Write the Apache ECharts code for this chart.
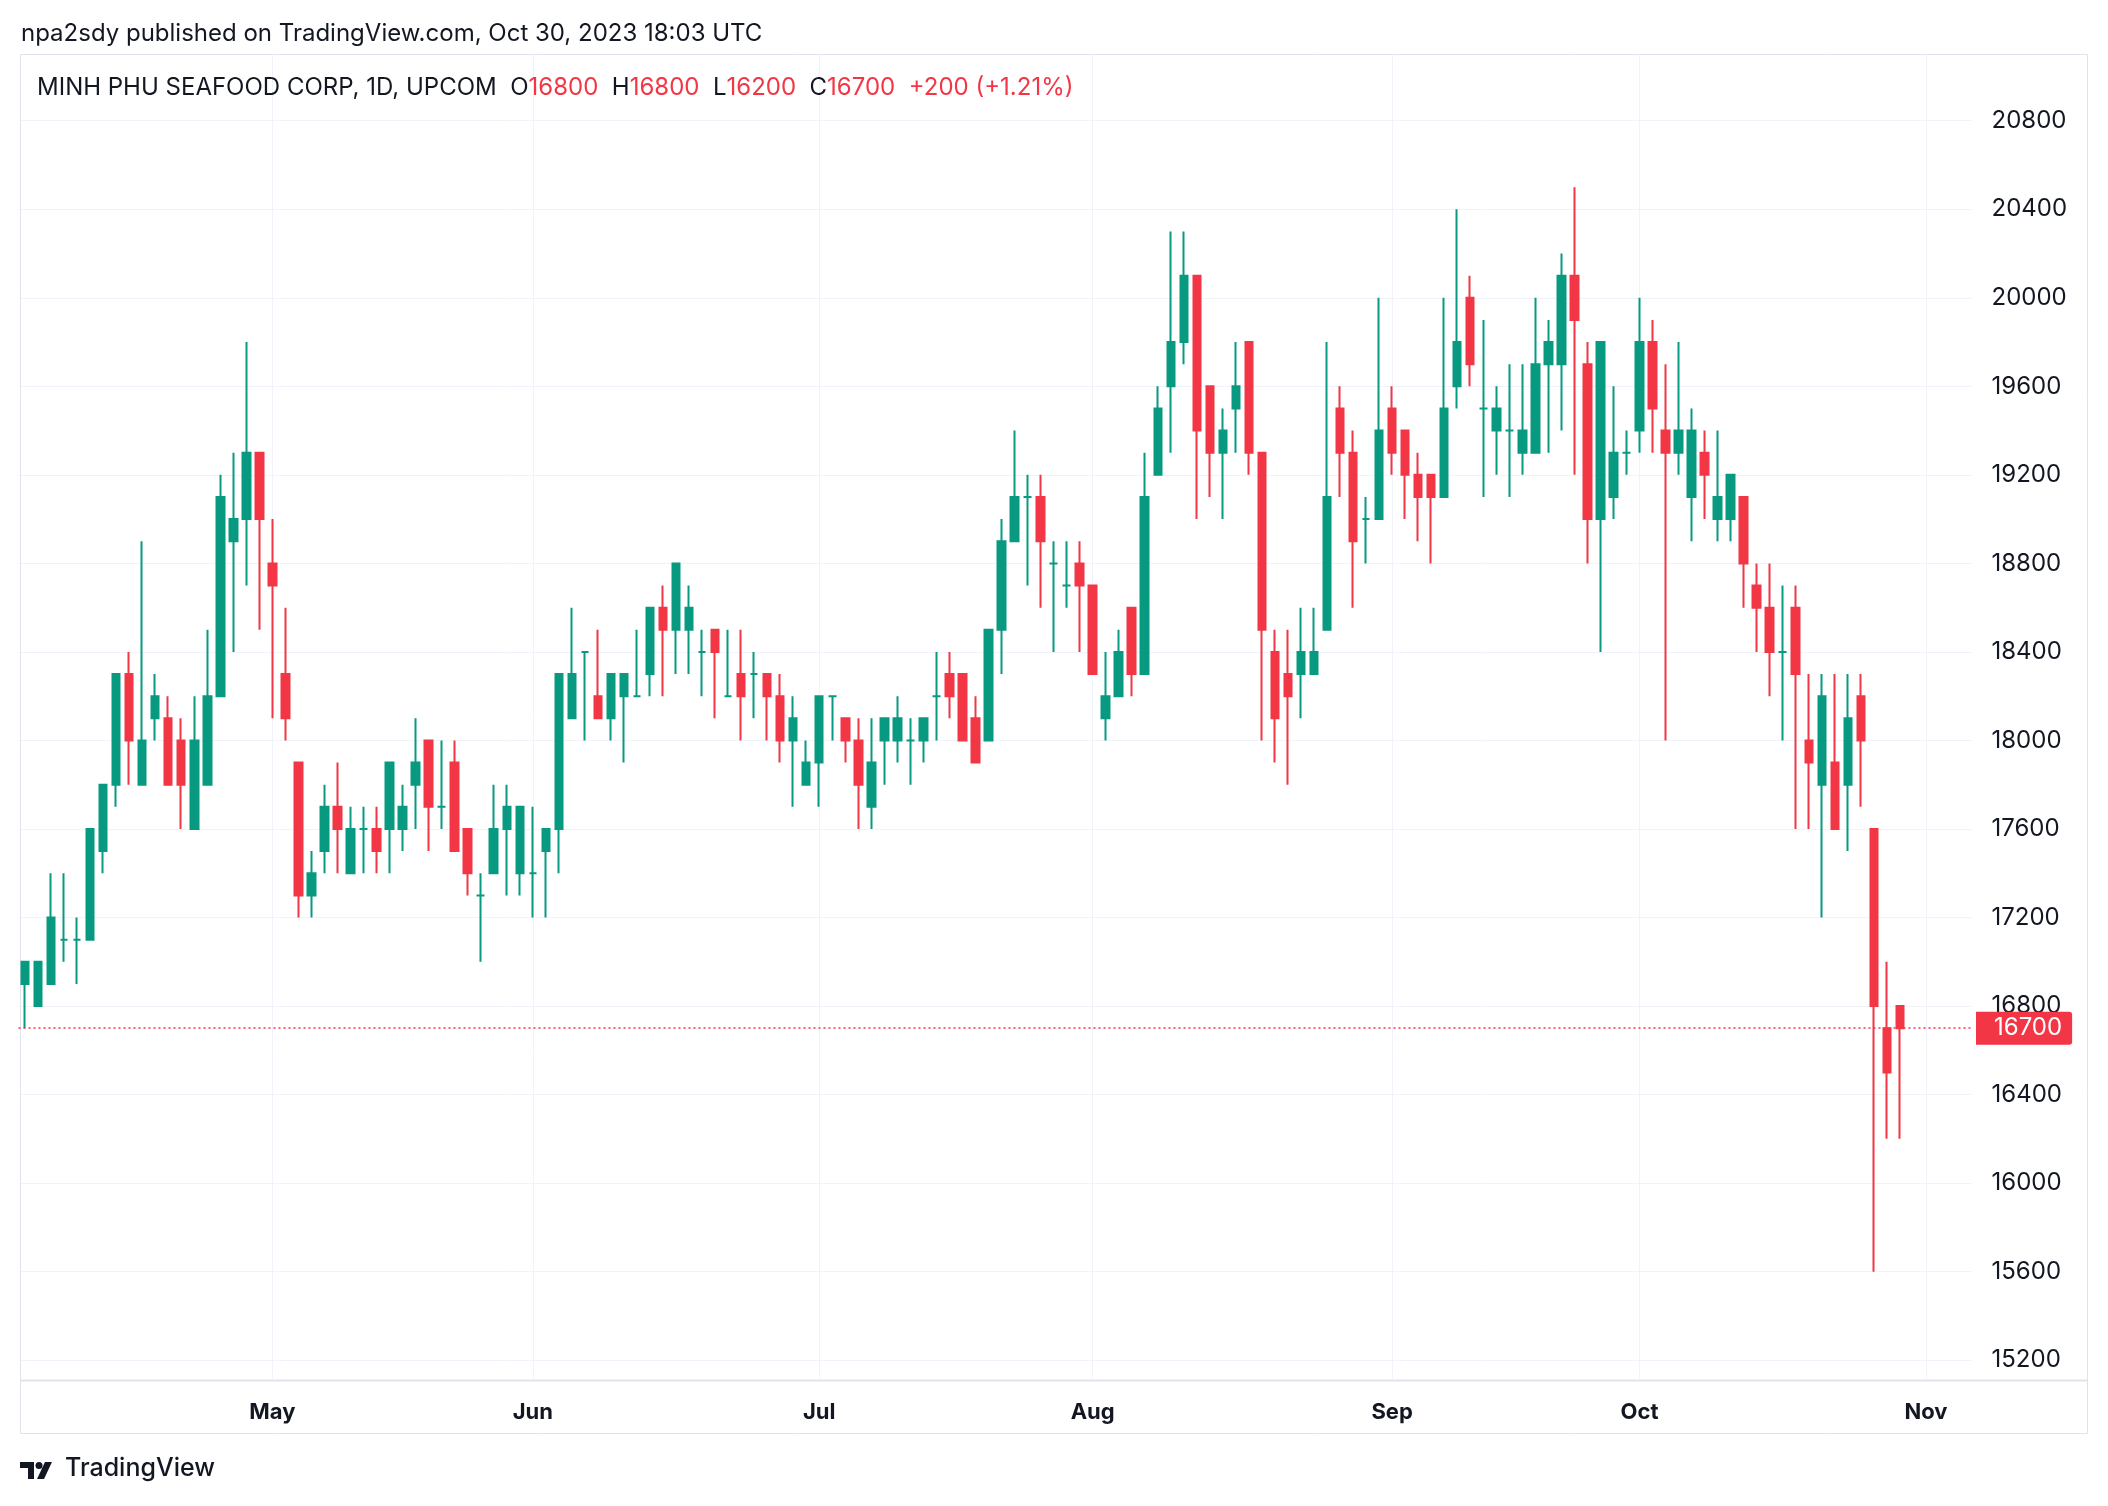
<!DOCTYPE html>
<html><head><meta charset="utf-8">
<script src="https://cdn.jsdelivr.net/npm/echarts@6/dist/echarts.min.js"></script>
<style>html,body{margin:0;padding:0;background:#fff}#c{width:2108px;height:1506px}</style>
</head><body><div id="c"></div>
<script>
// ---- data ----
const dates = [
'2023-04-04','2023-04-05','2023-04-06','2023-04-07','2023-04-10','2023-04-11','2023-04-12','2023-04-13','2023-04-14','2023-04-17','2023-04-18','2023-04-19','2023-04-20','2023-04-21','2023-04-24','2023-04-25','2023-04-26','2023-04-27','2023-04-28',
'2023-05-04','2023-05-05','2023-05-08','2023-05-09','2023-05-10','2023-05-11','2023-05-12','2023-05-15','2023-05-16','2023-05-17','2023-05-18','2023-05-19','2023-05-22','2023-05-23','2023-05-24','2023-05-25','2023-05-26','2023-05-29','2023-05-30','2023-05-31',
'2023-06-01','2023-06-02','2023-06-05','2023-06-06','2023-06-07','2023-06-08','2023-06-09','2023-06-12','2023-06-13','2023-06-14','2023-06-15','2023-06-16','2023-06-19','2023-06-20','2023-06-21','2023-06-22','2023-06-23','2023-06-26','2023-06-27','2023-06-28','2023-06-29','2023-06-30',
'2023-07-03','2023-07-04','2023-07-05','2023-07-06','2023-07-07','2023-07-10','2023-07-11','2023-07-12','2023-07-13','2023-07-14','2023-07-17','2023-07-18','2023-07-19','2023-07-20','2023-07-21','2023-07-24','2023-07-25','2023-07-26','2023-07-27','2023-07-28','2023-07-31',
'2023-08-01','2023-08-02','2023-08-03','2023-08-04','2023-08-07','2023-08-08','2023-08-09','2023-08-10','2023-08-11','2023-08-14','2023-08-15','2023-08-16','2023-08-17','2023-08-18','2023-08-21','2023-08-22','2023-08-23','2023-08-24','2023-08-25','2023-08-28','2023-08-29','2023-08-30','2023-08-31',
'2023-09-05','2023-09-06','2023-09-07','2023-09-08','2023-09-11','2023-09-12','2023-09-13','2023-09-14','2023-09-15','2023-09-18','2023-09-19','2023-09-20','2023-09-21','2023-09-22','2023-09-25','2023-09-26','2023-09-27','2023-09-28','2023-09-29',
'2023-10-02','2023-10-03','2023-10-04','2023-10-05','2023-10-06','2023-10-09','2023-10-10','2023-10-11','2023-10-12','2023-10-13','2023-10-16','2023-10-17','2023-10-18','2023-10-19','2023-10-20','2023-10-23','2023-10-24','2023-10-25','2023-10-26','2023-10-27','2023-10-30'
];
const futureDates = ['2023-10-31','2023-11-01','2023-11-02','2023-11-03','2023-11-06'];
const open = [16900,16800,16900,17100,17100,17100,17500,17800,18300,17800,18100,18100,18000,17600,17800,18200,18900,19000,19300,
18800,18300,17900,17300,17500,17700,17400,17600,17600,17600,17600,17800,18000,17700,17900,17600,17300,17400,17600,17400,
17400,17500,17600,18100,18400,18200,18100,18200,18200,18300,18600,18500,18500,18400,18500,18200,18300,18300,18300,18200,18000,17800,
17900,18200,18100,18000,17700,18000,18000,18000,18000,18200,18300,18300,18100,18000,18500,18900,19100,19100,18800,18700,18800,
18700,18100,18200,18600,18300,19200,19600,19800,20100,19600,19300,19500,19800,19300,18400,18300,18300,18300,18500,19500,19300,19000,19000,
19500,19400,19200,19200,19100,19600,20000,19500,19400,19400,19300,19300,19700,19700,20100,19700,19000,19100,19300,
19400,19800,19400,19300,19100,19300,19000,19000,19100,18700,18600,18400,18600,18000,17800,17900,17800,18200,17600,16700,16800];
const high = [17000,17000,17400,17400,17200,17600,17800,18300,18400,18900,18300,18200,18100,18200,18500,19200,19300,19800,19300,
19000,18600,17900,17500,17800,17900,17700,17700,17700,17900,17800,18100,18000,18000,18000,17600,17400,17800,17800,17700,
17700,17600,18300,18600,18400,18500,18300,18300,18500,18600,18700,18800,18700,18500,18500,18500,18500,18400,18300,18300,18200,18000,
18200,18200,18100,18100,18100,18100,18200,18100,18100,18400,18400,18300,18200,18500,19000,19400,19200,19200,18900,18900,18900,
18700,18400,18500,18600,19300,19600,20300,20300,20100,19600,19500,19800,19800,19300,18500,18500,18600,18600,19800,19600,19400,19100,20000,
19600,19400,19300,19200,20000,20400,20100,19900,19600,19700,19700,20000,19900,20200,20500,19800,19800,19600,19400,
20000,19900,19700,19800,19500,19400,19400,19200,19100,18800,18800,18700,18700,18300,18300,18300,18300,18300,17600,17000,16800];
const low = [16700,16800,16900,17000,16900,17100,17400,17700,17800,17800,18000,17800,17600,17600,17800,18200,18400,18700,18500,
18100,18000,17200,17200,17400,17400,17400,17400,17400,17400,17500,17600,17500,17600,17500,17300,17000,17400,17300,17300,
17200,17200,17400,18100,18000,18100,18000,17900,18200,18200,18200,18300,18300,18200,18100,18200,18000,18100,18000,17900,17700,17800,
17700,18000,17900,17600,17600,17800,17900,17800,17900,18000,18100,18000,17900,18000,18300,18900,18700,18600,18400,18600,18400,
18300,18000,18200,18200,18300,19200,19300,19700,19000,19100,19000,19300,19200,18000,17900,17800,18100,18300,18500,19100,18600,18800,19000,
19200,19000,18900,18800,19100,19500,19600,19100,19200,19100,19200,19300,19300,19400,19200,18800,18400,19000,19200,
19300,19300,18000,19200,18900,19000,18900,18900,18600,18400,18200,18000,17600,17600,17200,17600,17500,17700,15600,16200,16200];
const close = [17000,17000,17200,17100,17100,17600,17800,18300,18000,18000,18200,17800,17800,18000,18200,19100,19000,19300,19000,
18700,18100,17300,17400,17700,17600,17600,17600,17500,17900,17700,17900,17700,17700,17500,17400,17300,17600,17700,17700,
17400,17600,18300,18300,18400,18100,18300,18300,18200,18600,18500,18800,18600,18400,18400,18200,18200,18300,18200,18000,18100,17900,
18200,18200,18000,17800,17900,18100,18100,18000,18100,18200,18200,18000,17900,18500,18900,19100,19100,18900,18800,18700,18700,
18300,18200,18400,18300,19100,19500,19800,20100,19400,19300,19400,19600,19300,18500,18100,18200,18400,18400,19100,19300,18900,19000,19400,
19300,19200,19100,19100,19500,19800,19700,19500,19500,19400,19400,19700,19800,20100,19900,19000,19800,19300,19300,
19800,19500,19300,19400,19400,19200,19100,19200,18800,18600,18400,18400,18300,17900,18200,17600,18100,18000,16800,16500,16700];
const monthStarts = ['2023-05-04','2023-06-01','2023-07-03','2023-08-01','2023-09-05','2023-10-02','2023-11-01'];
const monthNames = ['May','Jun','Jul','Aug','Sep','Oct','Nov'];
const lastPrice = 16700;
const legendParts = {name:'MINH PHU SEAFOOD CORP, 1D, UPCOM', o:'16800', h:'16800', l:'16200', c:'16700', chg:'+200 (+1.21%)'};

// ---- chart ----
const UP = '#089981', DOWN = '#f23645', TXT = '#131722', GRID = '#f0f3fa', BORDER = '#e0e3eb';
const FONT = 'Inter, Roboto, sans-serif';
const cats = dates.concat(futureDates);
const ohlc = dates.map((d, i) => {
  const v = [open[i], close[i], low[i], high[i]];
  if (open[i] === close[i]) {
    return {value: v, itemStyle: {color: UP, color0: UP, borderColor: UP, borderColor0: UP, borderColorDoji: UP}};
  }
  return v;
});
const yMin = 14800, yMax = 21200;
const paneTop = 21101, paneBottom = 15110;

const chart = echarts.init(document.getElementById('c'), null, {renderer: 'canvas'});
chart.setOption({
  animation: false,
  backgroundColor: '#ffffff',
  textStyle: {fontFamily: FONT},
  title: [
    {text: 'npa2sdy published on TradingView.com, Oct 30, 2023 18:03 UTC', left: 16, top: 17,
     textStyle: {fontFamily: FONT, fontSize: 24, fontWeight: 'normal', color: TXT}},
    {text: '{n|' + legendParts.name + '}  {n|O}{r|' + legendParts.o + '}  {n|H}{r|' + legendParts.h + '}  {n|L}{r|' + legendParts.l + '}  {n|C}{r|' + legendParts.c + '}  {r|' + legendParts.chg + '}',
     left: 32, top: 71,
     textStyle: {fontFamily: FONT, fontSize: 24, fontWeight: 'normal', color: TXT,
       rich: {n: {fontFamily: FONT, fontSize: 24, color: TXT}, r: {fontFamily: FONT, fontSize: 24, color: DOWN}}}}
  ],
  grid: {left: 18.5, width: 1953, top: 32.2, height: 1416.5, containLabel: false, show: false},
  xAxis: {
    type: 'category', data: cats, boundaryGap: true, offset: -68.7,
    axisLine: {show: false}, axisTick: {show: false}, splitLine: {show: false},
    axisLabel: {
      interval: (idx, val) => monthStarts.indexOf(val) >= 0,
      formatter: val => monthNames[monthStarts.indexOf(val)] || '',
      margin: 21, fontSize: 22, fontWeight: 'bold', color: TXT, fontFamily: FONT
    }
  },
  yAxis: {
    type: 'value', position: 'right', min: yMin, max: yMax, interval: 400,
    axisLine: {show: false}, axisTick: {show: false},
    axisLabel: {margin: 20, fontSize: 24, color: TXT, fontFamily: FONT, showMinLabel: false, showMaxLabel: false,
      formatter: v => String(v)},
    splitLine: {show: true, showMinLine: false, showMaxLine: false, lineStyle: {color: GRID, width: 1}}
  },
  series: [
    {
      type: 'line', data: [], z: 1, silent: true,
      markLine: {
        z: 1, silent: true, symbol: ['none', 'none'], label: {show: false},
        lineStyle: {color: GRID, width: 1, type: 'solid'},
        data: monthStarts.map(d => [{coord: [d, paneTop]}, {coord: [d, paneBottom]}])
      }
    },
    {
      type: 'candlestick', data: ohlc, barWidth: 8, z: 3,
      itemStyle: {color: UP, color0: DOWN, borderColor: UP, borderColor0: DOWN, borderColorDoji: UP, borderWidth: 2},
      markLine: {
        silent: true, symbol: ['none', 'none'],
        data: [{
          yAxis: lastPrice,
          lineStyle: {color: DOWN, type: [2, 3], width: 1.5},
          label: {show: true, position: 'end', distance: 4.5, formatter: String(lastPrice), color: '#ffffff',
            backgroundColor: DOWN, padding: [5, 10, 4, 18], fontSize: 24, fontFamily: FONT, borderRadius: [0, 3, 3, 0]}
        }]
      }
    }
  ],
  graphic: [
    {type: 'rect', silent: true, z: 0, shape: {x: 20.5, y: 54.5, width: 2067, height: 1379},
     style: {fill: 'none', stroke: BORDER, lineWidth: 1}},
    {type: 'line', silent: true, z: 0, shape: {x1: 20, y1: 1380.5, x2: 2088, y2: 1380.5},
     style: {stroke: BORDER, lineWidth: 2}},
    {type: 'polygon', silent: true, shape: {points: [[20,1462],[34,1462],[34,1479],[28,1479],[28,1468],[20,1468]]}, style: {fill: TXT}},
    {type: 'circle', silent: true, shape: {cx: 39, cy: 1465.5, r: 3.5}, style: {fill: TXT}},
    {type: 'polygon', silent: true, shape: {points: [[45,1462],[52,1462],[44,1479],[37,1479]]}, style: {fill: TXT}},
    {type: 'text', silent: true, left: 65, top: 1456,
     style: {text: 'TradingView', fontSize: 25, fontWeight: 500, fill: TXT, fontFamily: FONT}}
  ]
});
</script>
</body></html>
